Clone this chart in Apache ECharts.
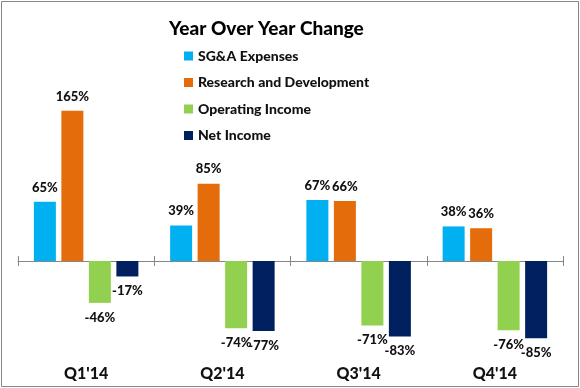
<!DOCTYPE html>
<html>
<head>
<meta charset="utf-8">
<script src="https://cdn.jsdelivr.net/npm/echarts@6/dist/echarts.min.js"></script>
<style>
html,body{margin:0;padding:0;background:#fff;}
#chart{width:580px;height:388px;}
</style>
</head>
<body>
<div id="chart"></div>
<script>
const categories = ["Q1'14", "Q2'14", "Q3'14", "Q4'14"];
const sgaExpenses = [65, 39, 67, 38];
const researchDevelopment = [165, 85, 66, 36];
const operatingIncome = [-46, -74, -71, -76];
const netIncome = [-17, -77, -83, -85];
const seriesNames = ["SG&A Expenses", "Research and Development", "Operating Income", "Net Income"];
const seriesColors = ["#00B0F0", "#E46C0A", "#92D050", "#002060"];
const seriesValues = [sgaExpenses, researchDevelopment, operatingIncome, netIncome];

const FONT = "Lato";
const W = 900;
const chart = echarts.init(document.getElementById('chart'), null, {renderer: 'canvas'});

const series = seriesValues.map((vals, i) => ({
  name: seriesNames[i],
  type: 'bar',
  xAxisIndex: 0,
  yAxisIndex: 0,
  barWidth: 22,
  barGap: '25%',
  itemStyle: {color: seriesColors[i]},
  data: vals.map(v => ({
    value: v,
    label: {position: v >= 0 ? 'top' : 'bottom'}
  })),
  label: {
    show: true,
    distance: 8,
    formatter: p => p.value + '%',
    color: '#111',
    fontFamily: FONT,
    fontWeight: W,
    fontSize: 13
  }
}));

chart.setOption({
  animation: false,
  title: {
    text: 'Year Over Year Change',
    left: 164,
    top: 14,
    textStyle: {fontFamily: FONT, fontWeight: W, fontSize: 19, color: '#000'}
  },
  legend: {
    orient: 'vertical',
    left: 179,
    top: 43,
    itemWidth: 9,
    itemHeight: 9,
    itemGap: 10.5,
    icon: 'rect',
    data: seriesNames,
    textStyle: {fontFamily: FONT, fontWeight: W, fontSize: 14, color: '#111', lineHeight: 16}
  },
  grid: {left: 18, right: 17, top: 79, bottom: 36, containLabel: false},
  xAxis: [
    {
      type: 'category', data: categories, position: 'bottom',
      axisLine: {onZero: true, onZeroAxisIndex: 0, lineStyle: {color: '#868686', width: 1}},
      axisTick: {show: true, length: 5, lineStyle: {color: '#868686'}},
      axisLabel: {show: false}
    },
    {
      type: 'category', data: categories, position: 'bottom',
      axisLine: {show: false, onZero: false},
      axisTick: {show: false},
      axisLabel: {show: true, margin: 14, fontFamily: FONT, fontWeight: W, fontSize: 16, color: '#111'}
    },
    {
      type: 'category', data: categories, position: 'bottom',
      axisLine: {show: false, onZero: true, onZeroAxisIndex: 1},
      axisTick: {show: true, inside: true, length: 5, lineStyle: {color: '#868686'}},
      axisLabel: {show: false}
    }
  ],
  yAxis: [
    {type: 'value', min: -100, max: 200, show: false, splitLine: {show: false}},
    {type: 'value', min: -100, max: 200, show: false, splitLine: {show: false}}
  ],
  series: series,
  graphic: [{
    type: 'rect',
    shape: {x: 1.5, y: 1.5, width: 577, height: 385},
    style: {fill: 'none', stroke: '#868686', lineWidth: 1},
    silent: true
  }]
});
</script>
</body>
</html>
